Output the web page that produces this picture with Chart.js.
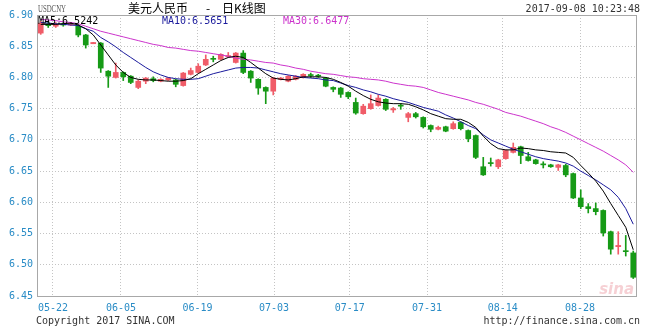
<!DOCTYPE html>
<html>
<head>
<meta charset="utf-8">
<script src="https://cdn.jsdelivr.net/npm/chart.js@4/dist/chart.umd.min.js"></script>
<style>
  body { margin: 0; background: #fff; }
  #wrap { width: 645px; height: 330px; }
</style>
</head>
<body>
<div id="wrap"><canvas id="kline" width="645" height="330"></canvas></div>
<script>
// trading days 05-18 .. 09-08
const dates = ['05-18','05-19','05-22','05-23','05-24','05-25','05-26','05-31','06-01','06-02',
  '06-05','06-06','06-07','06-08','06-09','06-12','06-13','06-14','06-15','06-16',
  '06-19','06-20','06-21','06-22','06-23','06-26','06-27','06-28','06-29','06-30',
  '07-03','07-04','07-05','07-06','07-07','07-10','07-11','07-12','07-13','07-14',
  '07-17','07-18','07-19','07-20','07-21','07-24','07-25','07-26','07-27','07-28',
  '07-31','08-01','08-02','08-03','08-04','08-07','08-08','08-09','08-10','08-11',
  '08-14','08-15','08-16','08-17','08-18','08-21','08-22','08-23','08-24','08-25',
  '08-28','08-29','08-30','08-31','09-01','09-04','09-05','09-06','09-07','09-08'];

const open = [6.871,6.886,6.882,6.886,6.884,6.882,6.868,6.854,6.855,6.810,
  6.800,6.808,6.802,6.784,6.794,6.798,6.794,6.796,6.796,6.787,
  6.805,6.808,6.820,6.830,6.829,6.833,6.824,6.839,6.810,6.797,
  6.784,6.778,6.797,6.794,6.797,6.800,6.804,6.803,6.799,6.784,
  6.783,6.776,6.760,6.742,6.750,6.755,6.765,6.748,6.755,6.736,
  6.742,6.736,6.723,6.717,6.721,6.718,6.728,6.715,6.707,6.657,
  6.663,6.657,6.670,6.680,6.689,6.673,6.668,6.661,6.660,6.656,
  6.659,6.646,6.607,6.593,6.590,6.587,6.553,6.529,6.522,6.519];
const close = [6.887,6.883,6.885,6.884,6.886,6.868,6.852,6.856,6.815,6.802,
  6.808,6.801,6.792,6.794,6.799,6.795,6.797,6.799,6.789,6.807,
  6.811,6.818,6.829,6.829,6.837,6.835,6.839,6.808,6.799,6.783,
  6.778,6.799,6.799,6.802,6.802,6.805,6.803,6.802,6.786,6.781,
  6.773,6.769,6.743,6.754,6.758,6.767,6.749,6.750,6.754,6.742,
  6.737,6.721,6.717,6.720,6.714,6.726,6.718,6.702,6.672,6.644,
  6.662,6.668,6.683,6.688,6.675,6.667,6.662,6.660,6.657,6.660,
  6.644,6.607,6.593,6.590,6.585,6.551,6.525,6.531,6.521,6.480];
const high = [6.890,6.889,6.888,6.888,6.888,6.885,6.869,6.856,6.856,6.811,
  6.823,6.809,6.803,6.796,6.800,6.801,6.798,6.800,6.797,6.808,
  6.815,6.822,6.836,6.834,6.838,6.840,6.840,6.843,6.811,6.798,
  6.785,6.800,6.800,6.803,6.803,6.806,6.807,6.805,6.800,6.785,
  6.784,6.777,6.767,6.757,6.772,6.772,6.766,6.752,6.758,6.744,
  6.744,6.737,6.724,6.722,6.722,6.729,6.729,6.716,6.708,6.672,
  6.671,6.669,6.684,6.695,6.690,6.680,6.669,6.665,6.661,6.661,
  6.661,6.647,6.620,6.598,6.599,6.588,6.554,6.553,6.547,6.522];
const low = [6.869,6.880,6.880,6.882,6.883,6.865,6.847,6.854,6.808,6.784,
  6.799,6.795,6.790,6.782,6.790,6.793,6.793,6.795,6.785,6.786,
  6.804,6.807,6.819,6.825,6.828,6.832,6.823,6.806,6.792,6.773,
  6.758,6.772,6.796,6.793,6.796,6.799,6.800,6.800,6.785,6.777,
  6.768,6.766,6.741,6.741,6.749,6.754,6.747,6.744,6.749,6.729,
  6.735,6.719,6.713,6.716,6.713,6.717,6.716,6.697,6.670,6.643,
  6.658,6.654,6.669,6.679,6.662,6.666,6.661,6.655,6.656,6.651,
  6.641,6.606,6.590,6.583,6.580,6.546,6.517,6.517,6.514,6.478];

const ma5 = [6.885,6.885,6.885,6.886,6.887,6.884,6.878,6.868,6.852,6.836,
  6.820,6.808,6.800,6.797,6.796,6.796,6.795,6.794,6.794,6.795,
  6.798,6.806,6.813,6.820,6.827,6.832,6.834,6.832,6.824,6.815,
  6.806,6.799,6.797,6.796,6.798,6.801,6.801,6.801,6.800,6.797,
  6.792,6.786,6.778,6.771,6.765,6.761,6.759,6.758,6.758,6.757,
  6.753,6.748,6.742,6.738,6.734,6.733,6.733,6.728,6.720,6.706,
  6.694,6.686,6.684,6.684,6.687,6.686,6.684,6.683,6.681,6.680,
  6.679,6.672,6.659,6.647,6.634,6.618,6.598,6.579,6.560,6.524];
const ma10 = [6.888,6.887,6.886,6.885,6.884,6.883,6.878,6.874,6.864,6.857,
  6.849,6.840,6.832,6.824,6.816,6.809,6.804,6.800,6.798,6.797,
  6.797,6.798,6.802,6.806,6.809,6.812,6.815,6.816,6.816,6.815,
  6.812,6.809,6.806,6.804,6.802,6.800,6.799,6.798,6.796,6.795,
  6.791,6.787,6.784,6.780,6.777,6.773,6.770,6.766,6.763,6.760,
  6.756,6.752,6.749,6.746,6.740,6.735,6.729,6.723,6.718,6.708,
  6.700,6.695,6.690,6.685,6.681,6.677,6.673,6.670,6.668,6.666,
  6.663,6.658,6.650,6.643,6.636,6.628,6.620,6.608,6.590,6.565];
const ma30 = [6.893,6.892,6.891,6.889,6.888,6.886,6.882,6.878,6.874,6.871,
  6.868,6.865,6.862,6.859,6.856,6.853,6.851,6.848,6.847,6.845,
  6.843,6.842,6.840,6.838,6.836,6.834,6.831,6.829,6.828,6.826,
  6.824,6.823,6.820,6.818,6.815,6.813,6.810,6.808,6.806,6.805,
  6.803,6.801,6.800,6.798,6.797,6.796,6.794,6.791,6.789,6.787,
  6.786,6.784,6.780,6.776,6.773,6.770,6.767,6.764,6.760,6.757,
  6.753,6.749,6.744,6.741,6.738,6.734,6.730,6.726,6.721,6.717,
  6.712,6.706,6.700,6.694,6.688,6.682,6.675,6.668,6.660,6.648];

// values printed in the MA legend
const maNames = ['MA5', 'MA10', 'MA30'];
const maLast = ['6.5242', '6.5651', '6.6477'];

const xTickLabels = ['05-22','06-05','06-19','07-03','07-17','07-31','08-14','08-28'];
const xTickPos = [1.63, 10.7, 20.9, 31.1, 41.2, 51.5, 61.6, 71.9];

const UP = '#f05c68', DOWN = '#169a16';
const maColors = ['#000000', '#1a1a9c', '#cc33cc'];
const candleColor = open.map((o, i) => close[i] >= o ? UP : DOWN);
const bodies = open.map((o, i) => [o, close[i]]);
const wicks = low.map((l, i) => [l, high[i]]);

const labelBlue = '#2a8cc6';
const mono = '"DejaVu Sans Mono", monospace';

const decor = {
  id: 'decor',
  beforeDatasetsDraw(chart) {
    const { ctx, chartArea: a } = chart;
    ctx.save();
    ctx.strokeStyle = '#a8a8a8';
    ctx.lineWidth = 1;
    ctx.strokeRect(Math.round(a.left) + 0.5, Math.round(a.top) + 0.5,
      Math.round(a.right - a.left) - 1, Math.round(a.bottom - a.top));
    // sina watermark
    ctx.fillStyle = 'rgba(236,150,160,0.45)';
    ctx.font = 'italic bold 15px "DejaVu Sans"';
    ctx.textAlign = 'right';
    ctx.textBaseline = 'alphabetic';
    ctx.fillText('sina', a.right - 3, a.bottom - 2);
    ctx.restore();
  },
  afterDraw(chart) {
    const { ctx, chartArea: a } = chart;
    ctx.save();
    ctx.textBaseline = 'alphabetic';
    ctx.textAlign = 'left';
    ctx.fillStyle = '#555';
    ctx.font = '10px "Liberation Serif"';
    ctx.fillText('USDCNY', 38, 12, 28);
    ctx.fillStyle = '#000';
    ctx.font = '12px "Noto Sans CJK SC"';
    ctx.fillText('美元人民币', 128, 13);
    ctx.fillText('-', 206, 13);
    ctx.fillText('日K线图', 222, 13);
    ctx.fillStyle = '#333';
    ctx.font = '10px ' + mono;
    ctx.textAlign = 'right';
    ctx.fillText('2017-09-08 10:23:48', 640, 12);
    ctx.fillText('http://finance.sina.com.cn', 640, 324);
    ctx.textAlign = 'left';
    ctx.fillText('Copyright 2017 SINA.COM', 36, 324);
    const ty = a.top + 9;
    const tx = [38, 162, 283];
    maNames.forEach((n, i) => {
      ctx.fillStyle = maColors[i];
      ctx.fillText(n + ':' + maLast[i], tx[i], ty);
    });
    ctx.restore();
  }
};

new Chart(document.getElementById('kline'), {
  type: 'bar',
  data: {
    labels: dates,
    datasets: [
      { type: 'line', data: ma5, borderColor: maColors[0], borderWidth: 1, pointRadius: 0, order: 0 },
      { type: 'line', data: ma10, borderColor: maColors[1], borderWidth: 1, pointRadius: 0, order: 0 },
      { type: 'line', data: ma30, borderColor: maColors[2], borderWidth: 1, pointRadius: 0, order: 0 },
      { data: bodies, backgroundColor: candleColor, barThickness: 5, minBarLength: 1, grouped: false, order: 1 },
      { data: wicks, backgroundColor: candleColor, barThickness: 1, grouped: false, order: 2 }
    ]
  },
  options: {
    responsive: false,
    animation: false,
    events: [],
    layout: { padding: { left: 0, right: 8, top: 15, bottom: 0 } },
    plugins: { legend: { display: false }, tooltip: { enabled: false } },
    scales: {
      x: { display: false, offset: true },
      xg: {
        type: 'linear', position: 'bottom', min: -0.5, max: 79.5, offset: false,
        afterBuildTicks: axis => { axis.ticks = xTickPos.map(v => ({ value: v })); },
        afterFit: axis => { axis.height = 34; },
        ticks: {
          autoSkip: false, maxRotation: 0, padding: 6, color: labelBlue,
          font: { family: mono, size: 10 },
          callback: (v, i) => xTickLabels[i]
        },
        grid: { color: '#c4c4c4', drawTicks: false, offset: false },
        border: { display: false, dash: [1, 2] }
      },
      y: {
        min: 6.45, max: 6.90,
        afterFit: axis => { axis.width = 37; },
        ticks: {
          stepSize: 0.05, padding: 4, color: labelBlue,
          font: { family: mono, size: 10 },
          callback: v => v.toFixed(2)
        },
        grid: { color: '#c4c4c4', drawTicks: false },
        border: { display: false, dash: [1, 2] }
      }
    }
  },
  plugins: [decor]
});
</script>
</body>
</html>
